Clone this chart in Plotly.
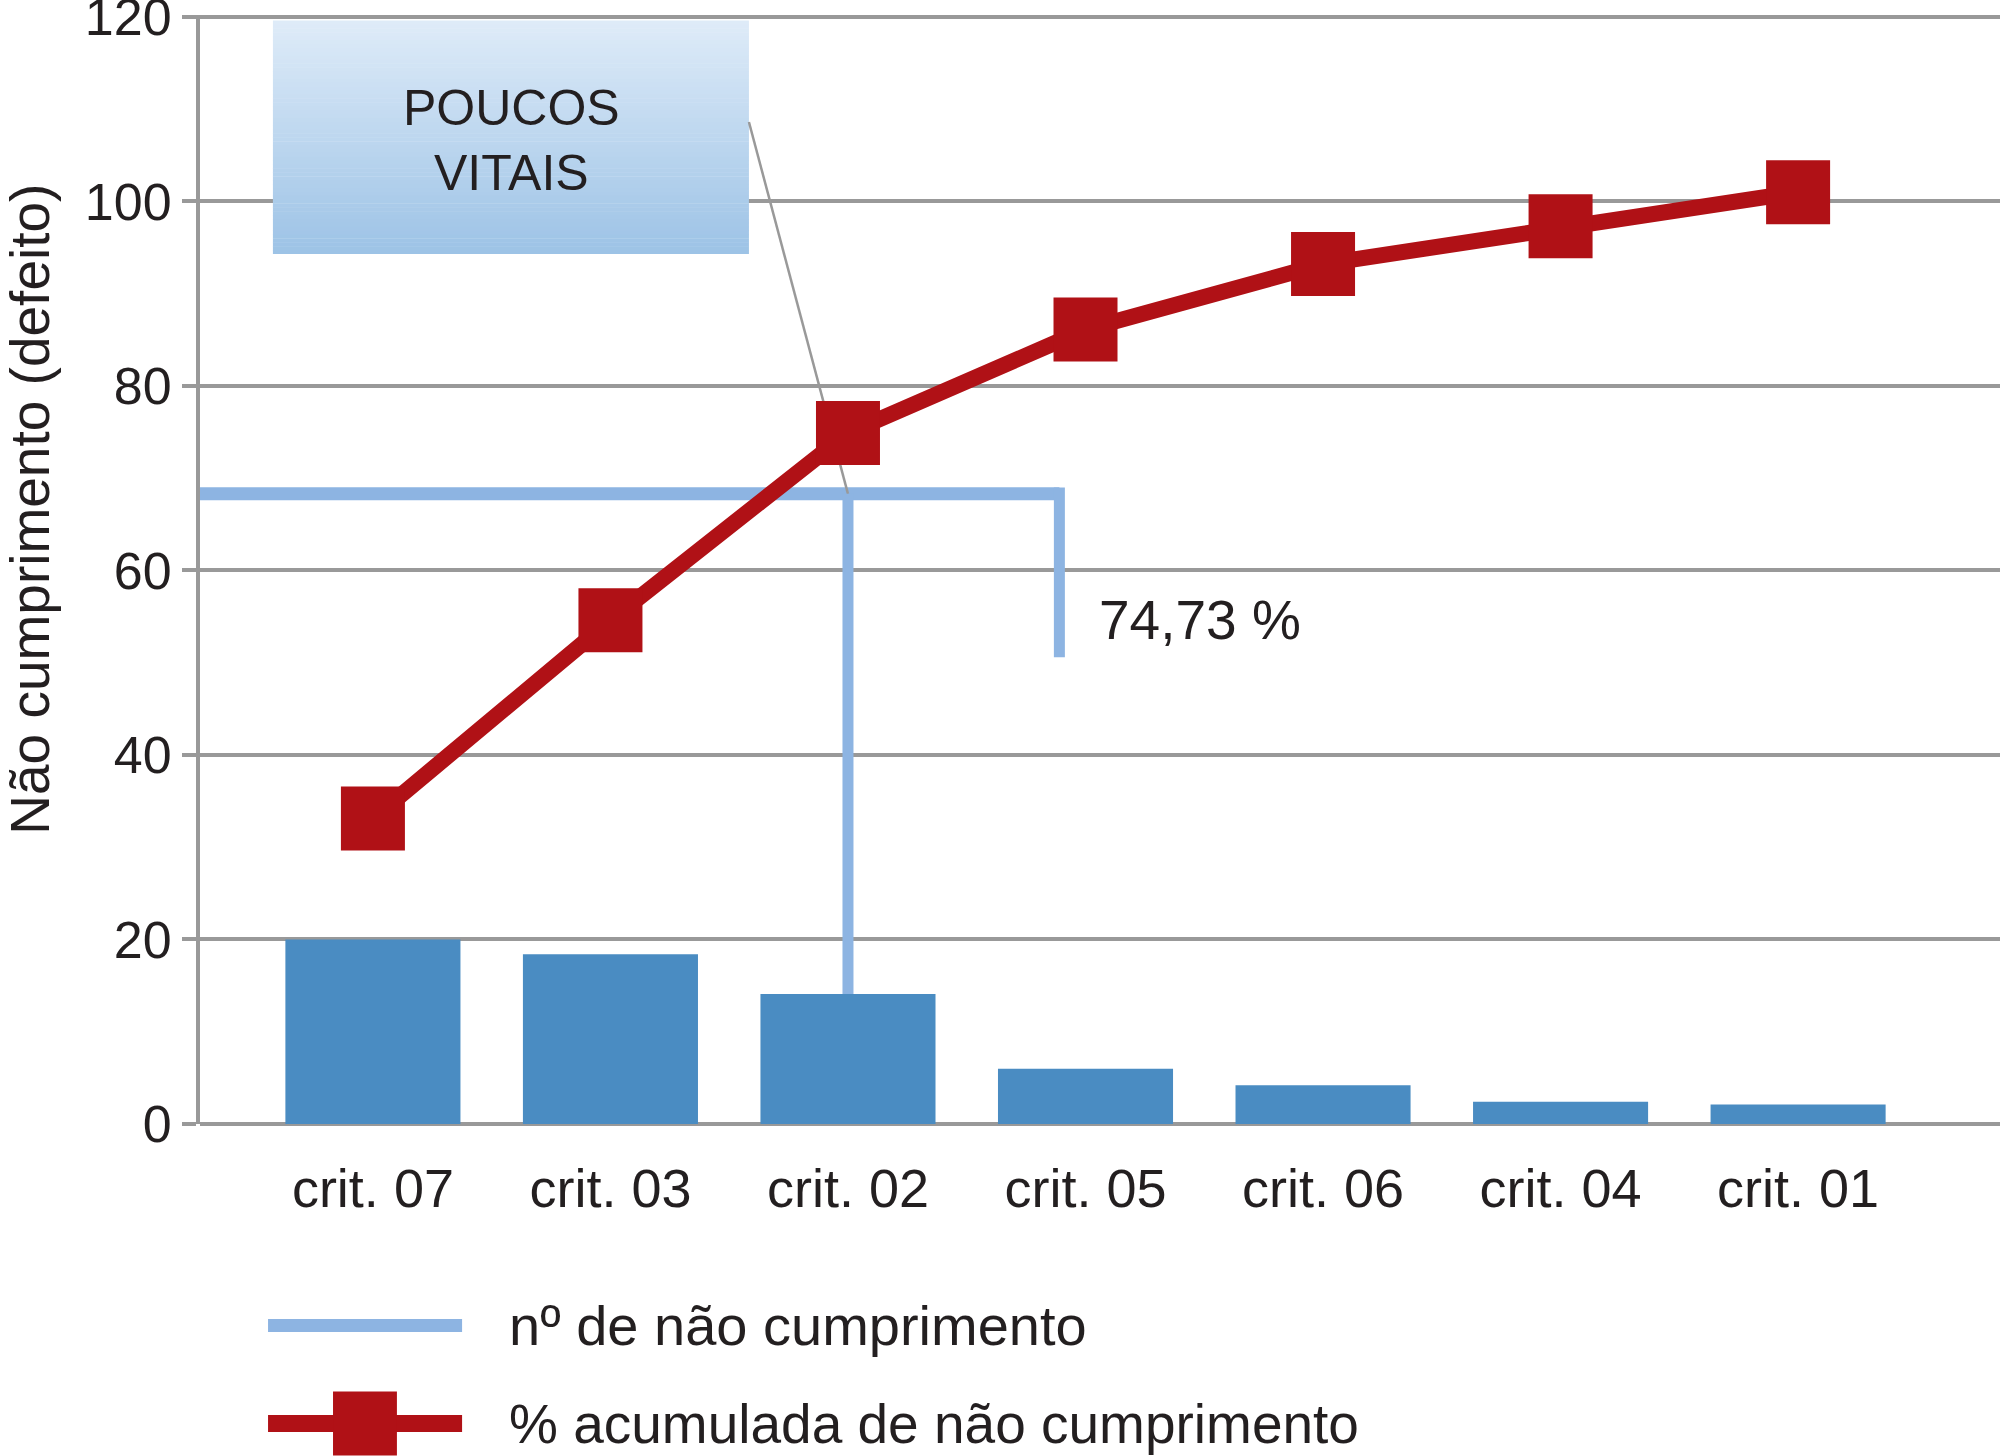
import plotly.graph_objects as go

categorias = ["crit. 07", "crit. 03", "crit. 02", "crit. 05", "crit. 06", "crit. 04", "crit. 01"]
nao_cumprimento = [20.0, 18.4, 14.1, 6.0, 4.2, 2.4, 2.1]
pct_acumulada = [33.1, 54.6, 74.9, 86.1, 93.2, 97.3, 101.0]
y_ticks = [0, 20, 40, 60, 80, 100, 120]

# linha de corte (pouco vitais)
corte_nivel = 68.3
corte_fim = 50.6
corte_x_fim = 2.89
corte_idx = 2
corte_texto = "74,73 %"

TXT = "#231F20"
CINZA = "#999999"
AZUL_BARRA = "#4A8CC2"
AZUL_LINHA = "#8DB4E2"
VERMELHO = "#B01116"
FONTE = "Liberation Sans"

fig = go.Figure()
fig.add_trace(go.Bar(x=categorias, y=nao_cumprimento, marker_color=AZUL_BARRA,
                     marker_line_width=0, showlegend=False))
fig.add_trace(go.Scatter(x=categorias, y=pct_acumulada, mode="lines+markers",
                         line=dict(color=VERMELHO, width=16),
                         marker=dict(symbol="square", size=64, color=VERMELHO),
                         showlegend=False))

shapes = []
# caixa com degradê
n = 60
bx0, bx1, by0, by1 = -0.421, 1.583, 94.3, 119.6
c_top, c_bot = (222, 235, 248), (157, 195, 230)
for i in range(n):
    t = i / (n - 1)
    c = tuple(round(c_top[k] + (c_bot[k] - c_top[k]) * t) for k in range(3))
    ya = by1 - (by1 - by0) * i / n
    yb = by1 - (by1 - by0) * (i + 1) / n - 0.05
    shapes.append(dict(type="rect", xref="x", yref="y", x0=bx0, x1=bx1, y0=max(yb, by0), y1=ya,
                       fillcolor="rgb(%d,%d,%d)" % c, line_width=0, layer="between"))
# conector
shapes.append(dict(type="line", xref="x", yref="y", x0=bx1, y0=108.6, x1=corte_idx, y1=corte_nivel,
                   line=dict(color=CINZA, width=2.5), layer="between"))
# linha de corte
shapes.append(dict(type="line", xref="paper", yref="y", x0=0, x1=(corte_x_fim + 0.728) / 7.578,
                   y0=corte_nivel, y1=corte_nivel, line=dict(color=AZUL_LINHA, width=13), layer="between"))
shapes.append(dict(type="line", xref="x", yref="y", x0=corte_x_fim, x1=corte_x_fim,
                   y0=corte_nivel + 0.7, y1=corte_fim, line=dict(color=AZUL_LINHA, width=11), layer="between"))
shapes.append(dict(type="line", xref="x", yref="y", x0=corte_idx, x1=corte_idx,
                   y0=corte_nivel, y1=nao_cumprimento[corte_idx], line=dict(color=AZUL_LINHA, width=11),
                   layer="between"))

# legenda manual
shapes.append(dict(type="line", xref="paper", yref="paper", x0=0.0378, x1=0.1456, y0=-0.1816, y1=-0.1816,
                   line=dict(color=AZUL_LINHA, width=13)))
shapes.append(dict(type="line", xref="paper", yref="paper", x0=0.0378, x1=0.1456, y0=-0.2701, y1=-0.2701,
                   line=dict(color=VERMELHO, width=17)))
shapes.append(dict(type="rect", xref="paper", yref="paper", x0=0.0739, x1=0.1094, y0=-0.2990, y1=-0.2412,
                   fillcolor=VERMELHO, line_width=0))

annotations = [
    dict(text="POUCOS<br>VITAIS", x=0.585, y=106.6, xref="x", yref="y", showarrow=False,
         xanchor="center", yanchor="middle", font=dict(size=50, color=TXT, family=FONTE)),
    dict(text=corte_texto, x=3.05, y=54.6, xref="x", yref="y", xanchor="left", yanchor="middle",
         showarrow=False, font=dict(size=55, color=TXT, family=FONTE)),
    dict(text="Não cumprimento (defeito)", x=-0.0945, y=0.5547, xref="paper", yref="paper",
         xanchor="center", yanchor="middle", textangle=-90, showarrow=False,
         font=dict(size=55, color=TXT, family=FONTE)),
    dict(text="nº de não cumprimento", x=0.1705, y=-0.1816, xref="paper", yref="paper",
         xanchor="left", yanchor="middle", showarrow=False, font=dict(size=56, color=TXT, family=FONTE)),
    dict(text="% acumulada de não cumprimento", x=0.1705, y=-0.2701, xref="paper", yref="paper",
         xanchor="left", yanchor="middle", showarrow=False, font=dict(size=55, color=TXT, family=FONTE)),
]

fig.update_layout(
    width=2000, height=1456,
    margin=dict(l=200, r=0, t=15, b=332, autoexpand=False),
    plot_bgcolor="white", paper_bgcolor="white",
    bargap=0.263,
    font=dict(family=FONTE, color=TXT),
    shapes=shapes, annotations=annotations,
    xaxis=dict(range=[-0.728, 6.85], showgrid=False, showline=False, zeroline=False, automargin=False,
               ticks="outside", ticklen=17, tickcolor="rgba(0,0,0,0)",
               tickfont=dict(size=54, color=TXT, family=FONTE)),
    yaxis=dict(range=[0, 120.2], tickvals=y_ticks, showgrid=True, gridcolor=CINZA, gridwidth=4,
               zeroline=True, zerolinecolor=CINZA, zerolinewidth=4, automargin=False,
               showline=True, linecolor=CINZA, linewidth=4, ticklabeloverflow="allow",
               ticks="outside", ticklen=14, tickwidth=4, tickcolor=CINZA,
               tickfont=dict(size=52, color=TXT, family=FONTE)),
)

fig.write_html("out.html", config={"displayModeBar": False},
               post_script="document.body.style.margin='0px';")
